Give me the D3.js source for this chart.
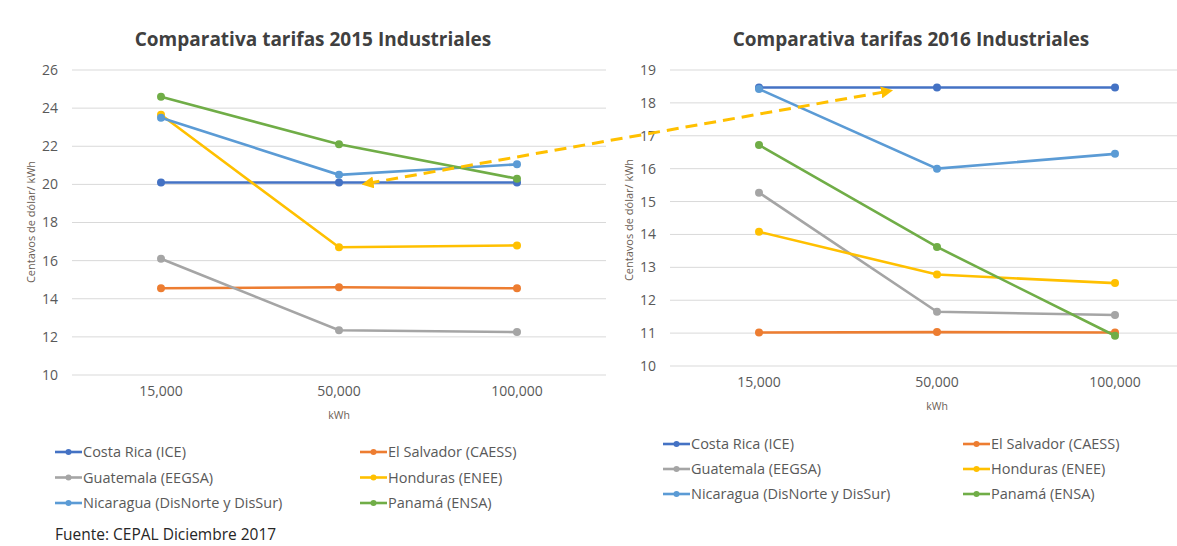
<!DOCTYPE html>
<html>
<head>
<meta charset="utf-8">
<script src="https://cdnjs.cloudflare.com/ajax/libs/d3/7.8.5/d3.min.js"></script>
<style>
  body { margin: 0; background: #fff; }
  svg { display: block; font-family: "Open Sans", sans-serif; }
</style>
</head>
<body>
<svg id="chart" width="1177" height="546"></svg>
<script>
// ---------- data ----------
var categories = ["15,000", "50,000", "100,000"];
var countries = ["Costa Rica (ICE)", "El Salvador (CAESS)", "Guatemala (EEGSA)",
                 "Honduras (ENEE)", "Nicaragua (DisNorte y DisSur)", "Panamá (ENSA)"];
var colors = ["#4472C4", "#ED7D31", "#A5A5A5", "#FFC000", "#5B9BD5", "#70AD47"];

var values2015 = [
  [20.1, 20.1, 20.1],
  [14.55, 14.6, 14.55],
  [16.1, 12.35, 12.25],
  [23.65, 16.7, 16.8],
  [23.5, 20.5, 21.05],
  [24.6, 22.1, 20.3]
];
var values2016 = [
  [18.47, 18.47, 18.47],
  [11.02, 11.03, 11.02],
  [15.27, 11.65, 11.55],
  [14.08, 12.78, 12.52],
  [18.42, 16.0, 16.45],
  [16.72, 13.62, 10.92]
];
var ticks2015 = [10, 12, 14, 16, 18, 20, 22, 24, 26];
var ticks2016 = [10, 11, 12, 13, 14, 15, 16, 17, 18, 19];

var svg = d3.select("#chart");

// ---------- one panel ----------
function draw_panel(opt) {
  var g = svg.append("g");
  var x = d3.scaleBand().domain(categories).range([opt.left, opt.right]);
  var y = d3.scaleLinear().domain([opt.ticks[0], opt.ticks[opt.ticks.length - 1]])
            .range([opt.bottom, opt.top]);

  // title
  g.append("text")
    .attr("x", opt.titleX).attr("y", opt.titleY)
    .attr("text-anchor", "middle")
    .attr("font-size", 19).attr("font-weight", "bold")
    .attr("fill", "#404040")
    .text(opt.title);

  // grid
  g.selectAll(".grid").data(opt.ticks).enter().append("line")
    .attr("x1", opt.left).attr("x2", opt.right)
    .attr("y1", function(d) { return y(d); })
    .attr("y2", function(d) { return y(d); })
    .attr("stroke", "#d9d9d9").attr("stroke-width", 1);

  // y axis labels
  var ya = g.append("g")
    .attr("transform", "translate(" + (opt.left - 14) + ",0)")
    .call(d3.axisLeft(y).tickValues(opt.ticks).tickSize(0).tickPadding(0));
  ya.select(".domain").remove();
  ya.selectAll("text").attr("font-size", 14).attr("fill", "#595959")
    .attr("font-family", "'Open Sans', sans-serif");

  // x axis labels
  var xa = g.append("g")
    .attr("transform", "translate(0," + (opt.bottom + 11) + ")")
    .call(d3.axisBottom(x).tickSize(0).tickPadding(0));
  xa.select(".domain").remove();
  xa.selectAll("text").attr("font-size", 14).attr("fill", "#595959")
    .attr("font-family", "'Open Sans', sans-serif");

  g.append("text")
    .attr("x", x("50,000") + x.bandwidth() / 2).attr("y", opt.bottom + 44)
    .attr("text-anchor", "middle").attr("font-size", 10.5).attr("fill", "#6b5e55")
    .text("kWh");

  g.append("text")
    .attr("transform", "translate(" + opt.yLabelX + "," + opt.yLabelY + ") rotate(-90)")
    .attr("text-anchor", "middle").attr("font-size", 11).attr("fill", "#6b5e55")
    .text("Centavos de dólar/ kWh");

  // series
  var line = d3.line()
    .x(function(d, i) { return x(categories[i]) + x.bandwidth() / 2; })
    .y(function(d) { return y(d); });

  opt.values.forEach(function(vals, k) {
    g.append("path").datum(vals)
      .attr("d", line).attr("fill", "none")
      .attr("stroke", colors[k]).attr("stroke-width", 2.6);
    g.selectAll(".pt" + k).data(vals).enter().append("circle")
      .attr("cx", function(d, i) { return x(categories[i]) + x.bandwidth() / 2; })
      .attr("cy", function(d) { return y(d); })
      .attr("r", 4).attr("fill", colors[k]);
  });

  // legend
  countries.forEach(function(name, k) {
    var lx = opt.legX + (k % 2) * opt.legColW;
    var ly = opt.legY + Math.floor(k / 2) * opt.legRowH;
    g.append("line")
      .attr("x1", lx).attr("x2", lx + 27).attr("y1", ly).attr("y2", ly)
      .attr("stroke", colors[k]).attr("stroke-width", 2.6);
    g.append("circle").attr("cx", lx + 13.5).attr("cy", ly).attr("r", 3).attr("fill", colors[k]);
    g.append("text")
      .attr("x", lx + 28).attr("y", ly + 5)
      .attr("font-size", 14.5).attr("fill", "#595959")
      .text(name);
  });

  return { x: x, y: y };
}

var p1 = draw_panel({
  title: "Comparativa tarifas 2015 Industriales", titleX: 313, titleY: 46,
  values: values2015, ticks: ticks2015,
  left: 72, right: 606, top: 70, bottom: 375,
  yLabelX: 35, yLabelY: 222,
  legX: 55, legY: 452, legColW: 305, legRowH: 25.5
});

var p2 = draw_panel({
  title: "Comparativa tarifas 2016 Industriales", titleX: 911, titleY: 46,
  values: values2016, ticks: ticks2016,
  left: 670, right: 1204, top: 70, bottom: 366,
  yLabelX: 633, yLabelY: 220,
  legX: 663, legY: 444, legColW: 300, legRowH: 25
});

// dashed arrow linking both panels
var arrowColor = "#FFC000";
var defs = svg.append("defs");
defs.append("marker").attr("id", "ah").attr("viewBox", "0 0 10 10")
  .attr("refX", 5).attr("refY", 5).attr("markerWidth", 4).attr("markerHeight", 4)
  .attr("orient", "auto-start-reverse")
  .append("path").attr("d", "M0,0 L10,5 L0,10 z").attr("fill", arrowColor);

var ax1 = p1.x("50,000") + p1.x.bandwidth() * 0.66, ay1 = p1.y(20.05);
var ax2 = p2.x("15,000") + p2.x.bandwidth() * 1.22, ay2 = p2.y(18.35);
svg.append("line")
  .attr("x1", ax1).attr("y1", ay1).attr("x2", ax2).attr("y2", ay2)
  .attr("stroke", arrowColor).attr("stroke-width", 3)
  .attr("stroke-dasharray", "12,7")
  .attr("marker-start", "url(#ah)").attr("marker-end", "url(#ah)");

// source
svg.append("text")
  .attr("x", 55).attr("y", 540)
  .attr("font-size", 15.5).attr("fill", "#262626")
  .text("Fuente: CEPAL Diciembre 2017");
</script>
</body>
</html>
